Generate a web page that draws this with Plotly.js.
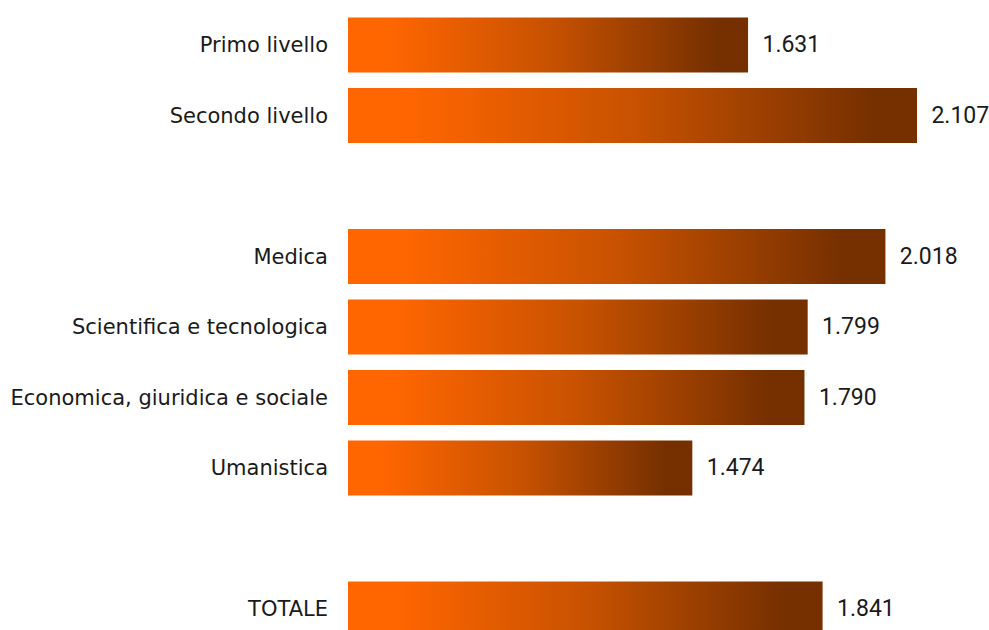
<!DOCTYPE html>
<html>
<head>
<meta charset="utf-8">
<script src="https://cdn.plot.ly/plotly-3.0.1.min.js"></script>
<style>
  html, body { margin: 0; padding: 0; background: #fff; }
  #chart { width: 989px; height: 630px; }
</style>
</head>
<body>
<div id="chart"></div>
<script>
// Categories in display order (spacers are empty rows)
const categories = [
  "Primo livello",
  "Secondo livello",
  " ",
  "Medica",
  "Scientifica e tecnologica",
  "Economica, giuridica e sociale",
  "Umanistica",
  "  ",
  "TOTALE"
];
const barCategories = [
  "Primo livello",
  "Secondo livello",
  "Medica",
  "Scientifica e tecnologica",
  "Economica, giuridica e sociale",
  "Umanistica",
  "TOTALE"
];
const values = [1631, 2107, 2018, 1799, 1790, 1474, 1841];

const trace = {
  type: "bar",
  orientation: "h",
  y: barCategories,
  x: values,
  width: 0.78,
  marker: { color: "#ff6600", line: { width: 0 } },
  texttemplate: "\u00a0\u00a0%{x:,}",
  textposition: "outside",
  cliponaxis: false,
  textfont: { family: "Roboto, sans-serif", size: 23, color: "#1a1a1a" },
  hoverinfo: "none"
};

const layout = {
  width: 989,
  height: 630,
  margin: { l: 348, r: 1, t: 0, b: 0, pad: 0 },
  paper_bgcolor: "#ffffff",
  plot_bgcolor: "#ffffff",
  separators: ",.",
  showlegend: false,
  bargap: 0.22,
  uniformtext: { mode: false },
  xaxis: {
    range: [504, 2307],
    showgrid: false,
    zeroline: false,
    showticklabels: false,
    showline: false,
    ticks: ""
  },
  yaxis: {
    type: "category",
    categoryorder: "array",
    categoryarray: categories,
    range: [8.298, -0.638],
    showgrid: false,
    zeroline: false,
    showline: false,
    ticks: "",
    ticklabelstandoff: 19,
    tickfont: { family: "DejaVu Sans, sans-serif", size: 21, color: "#1a1a1a" }
  }
};

Plotly.newPlot("chart", [trace], layout, { staticPlot: true, displayModeBar: false }).then(function (gd) {
  const svg = gd.querySelector(".main-svg");
  const ns = "http://www.w3.org/2000/svg";
  let defs = svg.querySelector("defs");
  if (!defs) { defs = document.createElementNS(ns, "defs"); svg.insertBefore(defs, svg.firstChild); }
  const paths = gd.querySelectorAll(".barlayer .point path");
  paths.forEach(function (p, i) {
    const bb = p.getBBox();
    const x0 = Math.max(bb.x, 0);
    const x1 = bb.x + bb.width;
    const g = document.createElementNS(ns, "linearGradient");
    g.setAttribute("id", "barGrad" + i);
    g.setAttribute("gradientUnits", "userSpaceOnUse");
    g.setAttribute("x1", x0); g.setAttribute("y1", 0);
    g.setAttribute("x2", x1); g.setAttribute("y2", 0);
    [[0, "#ff6600"], [0.1, "#ff6600"], [0.5, "#c85200"], [0.92, "#763000"], [1, "#763000"]].forEach(function (s) {
      const st = document.createElementNS(ns, "stop");
      st.setAttribute("offset", s[0]);
      st.setAttribute("stop-color", s[1]);
      g.appendChild(st);
    });
    defs.appendChild(g);
    p.style.fill = "url(#barGrad" + i + ")";
  });
});
</script>
</body>
</html>
